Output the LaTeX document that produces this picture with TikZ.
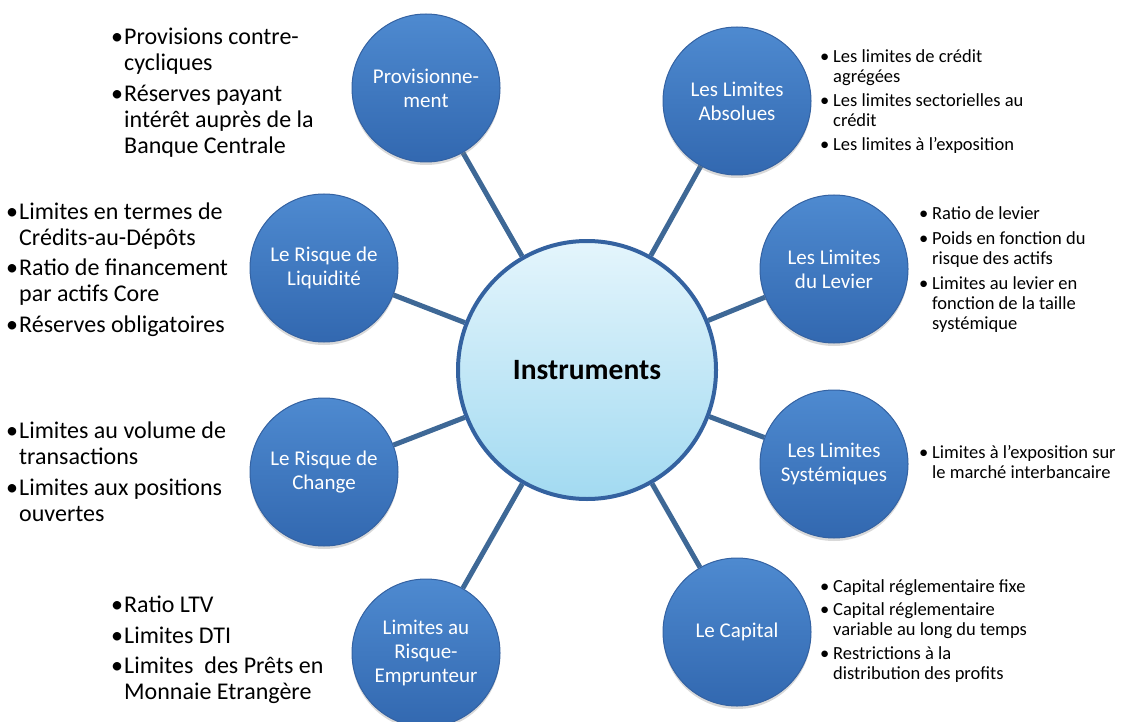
\documentclass[tikz,border=0pt]{standalone}
\usepackage{fontspec}
\setmainfont{Carlito}
\usepackage{xcolor}
\usepackage[]{tikz}
\usetikzlibrary{positioning,shadows,backgrounds}
\definecolor{topictop}{RGB}{78,138,208}
\definecolor{topicbot}{RGB}{50,104,176}
\definecolor{topicedge}{RGB}{52,98,162}
\definecolor{hubtop}{RGB}{228,245,252}
\definecolor{hubbot}{RGB}{162,218,241}
\definecolor{hubedge}{RGB}{52,98,160}
\definecolor{linkcol}{RGB}{62,104,150}
\tikzset{topic node/.style={circle,top color=topictop,bottom color=topicbot,draw=topicedge,line width=1pt,minimum size=148pt,inner sep=0pt,align=center,text=white,font=\fontsize{21}{24}\selectfont,drop shadow={opacity=0.3,shadow xshift=0pt,shadow yshift=-3pt}}}
\tikzset{hub node/.style={circle,top color=hubtop,bottom color=hubbot,draw=hubedge,line width=4pt,minimum size=258pt,inner sep=0pt,font=\fontsize{29.5}{32}\selectfont\bfseries}}
\tikzset{link/.style={draw=linkcol,line width=5pt}}
\tikzset{big notes/.style={anchor=north west,inner sep=0pt,font=\fontsize{24}{26}\selectfont}}
\tikzset{small notes/.style={anchor=north west,inner sep=0pt,font=\fontsize{18.5}{20}\selectfont}}

\begin{document}
\begin{tikzpicture}[x=1pt, y=-1pt, on grid]
      \useasboundingbox (0,0) rectangle (1121,722);
      \node[hub node] (0) at (587,370) {Instruments};
      \node[topic node] (1) [above left = 282pt and 161pt of 0] {Provisionne-\\ment};
      \node[topic node] (2) [above right = 269pt and 150pt of 0] {Les Limites\\Absolues};
      \node[topic node] (3) [above left = 102pt and 263pt of 0] {Le Risque de\\Liquidité};
      \node[topic node] (4) [above right = 101pt and 247pt of 0] {Les Limites\\du Levier};
      \node[topic node] (5) [below left = 102pt and 263pt of 0] {Le Risque de\\Change};
      \node[topic node] (6) [below right = 94pt and 247pt of 0] {Les Limites\\Systémiques};
      \node[topic node] (7) [below left = 283pt and 161pt of 0] {Limites au\\Risque-\\Emprunteur};
      \node[topic node] (8) [below right = 262pt and 150pt of 0] {Le Capital};
      \begin{scope}[on background layer]
      \draw[link] (0) -- (1);
      \draw[link] (0) -- (2);
      \draw[link] (0) -- (3);
      \draw[link] (0) -- (4);
      \draw[link] (0) -- (5);
      \draw[link] (0) -- (6);
      \draw[link] (0) -- (7);
      \draw[link] (0) -- (8);
      \end{scope}
      % bullet lists
      \node[big notes] (t1) at (111,26) {\begin{tabular}{@{}p{13pt}@{}l@{}}
        •&Provisions contre-\\&cycliques\\[5pt]
        •&Réserves payant\\&intérêt auprès de la\\&Banque Centrale\end{tabular}};
      \node[small notes] (t2) at (820,48) {\begin{tabular}{@{}p{13pt}@{}l@{}}
        •&Les limites de crédit\\&agrégées\\[4pt]
        •&Les limites sectorielles au\\&crédit\\[4pt]
        •&Les limites à l’exposition\end{tabular}};
      \node[big notes] (t3) at (6,201) {\begin{tabular}{@{}p{13pt}@{}l@{}}
        •&Limites en termes de\\&Crédits-au-Dépôts\\[4pt]
        •&Ratio de financement\\&par actifs Core\\[5pt]
        •&Réserves obligatoires\end{tabular}};
      \node[small notes] (t4) at (919,205) {\begin{tabular}{@{}p{13pt}@{}l@{}}
        •&Ratio de levier\\[5pt]
        •&Poids en fonction du\\&risque des actifs\\[5pt]
        •&Limites au levier en\\&fonction de la taille\\&systémique\end{tabular}};
      \node[big notes] (t5) at (6,420) {\begin{tabular}{@{}p{13pt}@{}l@{}}
        •&Limites au volume de\\&transactions\\[5pt]
        •&Limites aux positions\\&ouvertes\end{tabular}};
      \node[small notes] (t6) at (919,444) {\begin{tabular}{@{}p{13pt}@{}l@{}}
        •&Limites à l’exposition sur\\&le marché interbancaire\end{tabular}};
      \node[big notes] (t7) at (111,594) {\begin{tabular}{@{}p{13pt}@{}l@{}}
        •&Ratio LTV\\[5pt]
        •&Limites DTI\\[4pt]
        •&Limites~ des Prêts en\\&Monnaie Etrangère\end{tabular}};
      \node[small notes] (t8) at (820,578) {\begin{tabular}{@{}p{13pt}@{}l@{}}
        •&Capital réglementaire fixe\\[3pt]
        •&Capital réglementaire\\&variable au long du temps\\[4pt]
        •&Restrictions à la\\&distribution des profits\end{tabular}};
    \end{tikzpicture}
\end{document}
